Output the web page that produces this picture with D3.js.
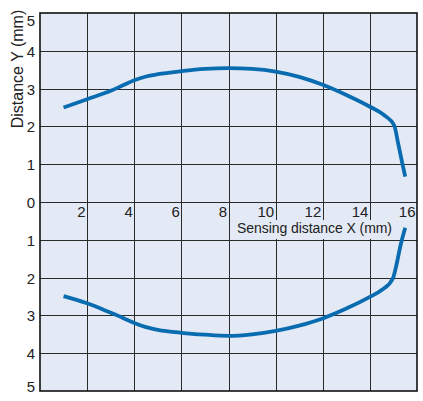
<!DOCTYPE html>
<html>
<head>
<meta charset="utf-8">
<script src="https://cdn.jsdelivr.net/npm/d3@7"></script>
<style>
  html, body { margin: 0; padding: 0; background: #fff; }
  svg text { font-family: "Liberation Sans", Arial, sans-serif; fill: #222; }
</style>
</head>
<body>
<div id="app"></div>
<script>
// sensing area, upper half (Y > 0) and lower half (Y < 0)
const upperX = [1, 2, 3, 3.5, 4, 4.5, 5, 6, 7, 8, 9, 10, 11, 12, 13, 14, 14.6, 15.03, 15.2, 15.35, 15.5]
const upperY = [2.5, 2.72, 2.94, 3.08, 3.22, 3.32, 3.38, 3.46, 3.52, 3.54, 3.52, 3.45, 3.31, 3.1, 2.83, 2.52, 2.3, 2.03, 1.55, 1.1, 0.67]
const lowerX = [1, 2, 3, 3.5, 4, 4.5, 5, 6, 7, 8, 9, 10, 11, 12, 13, 14, 14.5, 14.97, 15.15, 15.3, 15.5]
const lowerY = [-2.49, -2.68, -2.93, -3.06, -3.2, -3.31, -3.38, -3.46, -3.51, -3.54, -3.5, -3.41, -3.27, -3.08, -2.82, -2.51, -2.33, -2.03, -1.6, -1.15, -0.68]

const xTicks = [2, 4, 6, 8, 10, 12, 14, 16]
const yTicks = [-5, -4, -3, -2, -1, 0, 1, 2, 3, 4, 5]

const width = 423
const height = 401
const plotLeft = 40, plotRight = 417, plotTop = 13, plotBottom = 391

const svg = d3.select('#app').append('svg')
    .attr('width', width)
    .attr('height', height)
    .attr('viewBox', [0, 0, width, height])

const xScale = d3.scaleLinear().domain([0, 16]).range([plotLeft, plotRight])
const yScale = d3.scaleLinear().domain([-5, 5]).range([plotBottom, plotTop])

// panel
svg.append('rect')
    .attr('x', plotLeft).attr('y', plotTop)
    .attr('width', plotRight - plotLeft).attr('height', plotBottom - plotTop)
    .attr('fill', '#e3e9f5')

// grid
svg.selectAll('line.vgrid')
    .data(xTicks.filter(d => d < 16)).enter()
    .append('line').attr('class', 'vgrid')
    .attr('x1', d => Math.round(xScale(d)) + 0.5).attr('x2', d => Math.round(xScale(d)) + 0.5)
    .attr('y1', plotTop).attr('y2', plotBottom)
    .attr('stroke', '#2a2a2a').attr('stroke-width', 1)

svg.selectAll('line.hgrid')
    .data(yTicks.filter(d => Math.abs(d) < 5)).enter()
    .append('line').attr('class', 'hgrid')
    .attr('x1', plotLeft).attr('x2', plotRight)
    .attr('y1', d => Math.round(yScale(d)) + 0.5).attr('y2', d => Math.round(yScale(d)) + 0.5)
    .attr('stroke', '#2a2a2a').attr('stroke-width', 1)

// x title sits on a patch of panel colour
svg.append('rect')
    .attr('x', 232).attr('y', 220).attr('width', 165).attr('height', 19)
    .attr('fill', '#e3e9f5')
svg.append('text')
    .attr('x', 314.5).attr('y', 233)
    .attr('text-anchor', 'middle')
    .style('font-size', '14px')
    .attr('textLength', 155)
    .text('Sensing distance X (mm)')

// border
svg.append('rect')
    .attr('x', plotLeft).attr('y', plotTop)
    .attr('width', plotRight - plotLeft).attr('height', plotBottom - plotTop)
    .attr('fill', 'none').attr('stroke', '#111').attr('stroke-width', 1.6)

// curves
const line = d3.line()
    .x(d => xScale(d[0]))
    .y(d => yScale(d[1]))
    .curve(d3.curveMonotoneX)

const curves = [d3.zip(upperX, upperY), d3.zip(lowerX, lowerY)]
svg.selectAll('path.curve')
    .data(curves).enter()
    .append('path').attr('class', 'curve')
    .attr('d', line)
    .attr('fill', 'none')
    .attr('stroke', '#0a6cb0')
    .attr('stroke-width', 3.8)
    .attr('stroke-linecap', 'butt')

// x tick labels
svg.selectAll('text.xtick')
    .data(xTicks).enter()
    .append('text').attr('class', 'xtick')
    .attr('x', d => xScale(d) - 1.5)
    .attr('y', 217)
    .attr('text-anchor', 'end')
    .style('font-size', '15px')
    .text(d => d)

// y tick labels (absolute distance on both sides)
svg.selectAll('text.ytick')
    .data(yTicks).enter()
    .append('text').attr('class', 'ytick')
    .attr('x', 35)
    .attr('y', d => d === 5 ? yScale(d) + 13 : d === -5 ? yScale(d) + 1 : yScale(d) + 6)
    .attr('text-anchor', 'end')
    .style('font-size', '15px')
    .text(d => Math.abs(d))

// y title
svg.append('text')
    .attr('transform', 'translate(22.5,69) rotate(-90)')
    .attr('text-anchor', 'middle')
    .style('font-size', '16px')
    .text('Distance Y (mm)')
</script>
</body>
</html>
